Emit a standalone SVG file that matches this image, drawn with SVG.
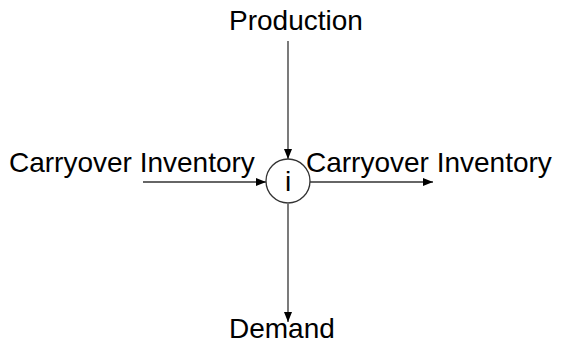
<svg xmlns="http://www.w3.org/2000/svg" width="561" height="343" viewBox="0 0 561 343">
<style>
text{font-family:"Liberation Sans",Arial,sans-serif;font-size:28px;fill:#000}
.c{stroke:#333;stroke-width:1.3;fill:none}
</style>
<defs>
<marker id="ah" viewBox="0 0 10 8" refX="10" refY="4" markerWidth="10" markerHeight="8" markerUnits="userSpaceOnUse" orient="auto">
<path d="M0,0 L10,4 L0,8 Z" fill="#000"/>
</marker>
</defs>
<rect width="561" height="343" fill="#fff"/>
<g id="connectors">
<line class="c" x1="288" y1="41" x2="288" y2="159" marker-end="url(#ah)"/>
<line class="c" x1="143" y1="182" x2="266" y2="182" marker-end="url(#ah)"/>
<line class="c" x1="310" y1="182" x2="433" y2="182" marker-end="url(#ah)"/>
<line class="c" x1="288" y1="204" x2="288" y2="322" marker-end="url(#ah)"/>
</g>
<g id="node-i">
<circle cx="288" cy="181" r="22" fill="none" stroke="#333" stroke-width="1.3"/>
<text x="288" y="191" text-anchor="middle">i</text>
</g>
<g id="production"><text x="229" y="30">Production</text></g>
<g id="carry-in"><text x="9" y="172">Carryover Inventory</text></g>
<g id="carry-out"><text x="306" y="172">Carryover Inventory</text></g>
<g id="demand"><text x="229" y="338">Demand</text></g>
</svg>
